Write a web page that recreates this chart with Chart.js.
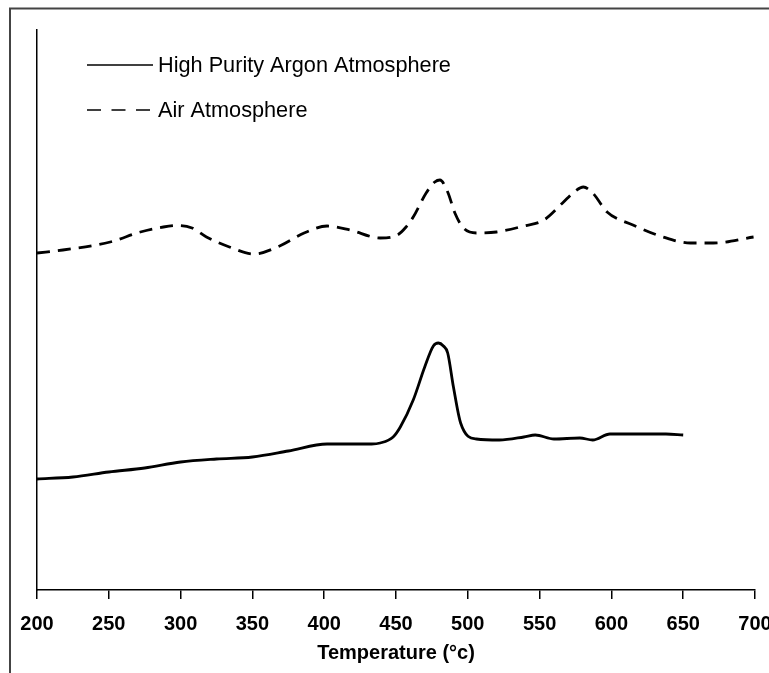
<!DOCTYPE html>
<html>
<head>
<meta charset="utf-8">
<script src="https://cdn.jsdelivr.net/npm/chart.js@4.4.1/dist/chart.umd.min.js"></script>
<style>
html,body{margin:0;padding:0;background:#fff;}
#wrap{width:769px;height:673px;position:relative;}
</style>
</head>
<body>
<div id="wrap"><canvas id="c" width="769" height="673"></canvas></div>
<script>
// ---- data (arbitrary y units) ----
const xTicks = [200, 250, 300, 350, 400, 450, 500, 550, 600, 650, 700];
const seriesLabels = ["High Purity Argon Atmosphere", "Air Atmosphere"];

const argonX = [200, 225, 250, 275, 300, 325, 350, 375, 402, 433, 439, 448, 453, 462, 470, 476, 479.5, 483, 486, 490, 495, 506, 522, 539, 547, 560, 578, 587, 599, 638, 650];
const argonY = [111, 113, 118, 122, 128, 131, 133, 139, 146, 146, 147, 153, 163, 190, 223, 244, 247, 244, 237, 203, 167, 151, 150, 153, 155, 151, 152, 150, 156, 156, 155];

const airX = [200, 218, 251, 272, 288, 298, 308, 318, 334, 351, 369, 386, 402, 418, 439, 451, 457, 462, 471, 477, 480.6, 486, 491, 497, 506, 520, 539, 553, 566, 574, 580.5, 587, 597, 615, 636, 655, 671, 699];
const airY = [337, 340, 348, 358, 363, 364.5, 362, 353, 343, 336, 344, 357, 364, 360, 352, 355, 363, 373, 397, 408, 410, 398, 377, 362, 357, 358, 364, 370, 387, 398, 403, 397, 378, 365, 353, 347, 347, 353];

const toPts = (xs, ys) => xs.map((x, i) => ({x: x, y: ys[i]}));

const FONT = "'Liberation Sans', Arial, Helvetica, sans-serif";

const framePlugin = {
  id: 'frame',
  beforeDraw(chart) {
    const ctx = chart.ctx;
    ctx.save();
    ctx.strokeStyle = '#444';
    ctx.lineWidth = 2;
    ctx.beginPath();
    ctx.moveTo(10, 690);
    ctx.lineTo(10, 8.5);
    ctx.lineTo(790, 8.5);
    ctx.stroke();
    ctx.restore();
  }
};

const legendPlugin = {
  id: 'customLegend',
  afterDraw(chart) {
    const ctx = chart.ctx;
    const rows = [65, 110];
    ctx.save();
    chart.data.datasets.forEach((ds, i) => {
      const y = rows[i];
      ctx.strokeStyle = '#000';
      ctx.lineWidth = 1.6;
      ctx.setLineDash(ds.borderDash && ds.borderDash.length ? [14, 10.5] : []);
      ctx.beginPath();
      ctx.moveTo(87, y);
      ctx.lineTo(i === 0 ? 153 : 150, y);
      ctx.stroke();
      ctx.setLineDash([]);
      ctx.fillStyle = '#000';
      ctx.font = '21.7px ' + FONT;
      ctx.textBaseline = 'middle';
      ctx.textAlign = 'left';
      ctx.fillText(ds.label, 158, y + 1);
    });
    ctx.restore();
  }
};

new Chart(document.getElementById('c'), {
  type: 'line',
  data: {
    datasets: [
      {
        label: seriesLabels[0],
        data: toPts(argonX, argonY),
        borderColor: '#000',
        borderWidth: 2.8,
        pointRadius: 0,
        fill: false,
        cubicInterpolationMode: 'monotone'
      },
      {
        label: seriesLabels[1],
        data: toPts(airX, airY),
        borderColor: '#000',
        borderWidth: 2.8,
        borderDash: [13, 8],
        pointRadius: 0,
        fill: false,
        cubicInterpolationMode: 'monotone'
      }
    ]
  },
  options: {
    responsive: false,
    animation: false,
    devicePixelRatio: 1,
    layout: {padding: {top: 30, left: 0, right: 14, bottom: 0}},
    plugins: {
      legend: {display: false},
      tooltip: {enabled: false}
    },
    scales: {
      x: {
        type: 'linear',
        min: 200,
        max: 700,
        afterBuildTicks(s) { s.ticks = xTicks.map(v => ({value: v})); },
        afterFit(s) { s.height = 83; s.paddingLeft = 0; s.paddingRight = 0; },
        ticks: {
          color: '#000',
          font: {family: FONT, size: 20, weight: 'bold'},
          padding: 13,
          maxRotation: 0,
          autoSkip: false
        },
        grid: {display: true, drawOnChartArea: false, drawTicks: true, tickLength: 9, color: '#000', lineWidth: 1.5},
        border: {display: true, color: '#000', width: 1.5},
        title: {
          display: true,
          text: 'Temperature (°c)',
          color: '#000',
          font: {family: FONT, size: 20, weight: 'bold'},
          padding: {top: 0, bottom: 8}
        }
      },
      y: {
        type: 'linear',
        min: 0,
        max: 560,
        afterFit(s) { s.width = 37; },
        ticks: {display: false},
        grid: {display: false},
        border: {display: true, color: '#000', width: 1.5}
      }
    }
  },
  plugins: [framePlugin, legendPlugin]
});
</script>
</body>
</html>
